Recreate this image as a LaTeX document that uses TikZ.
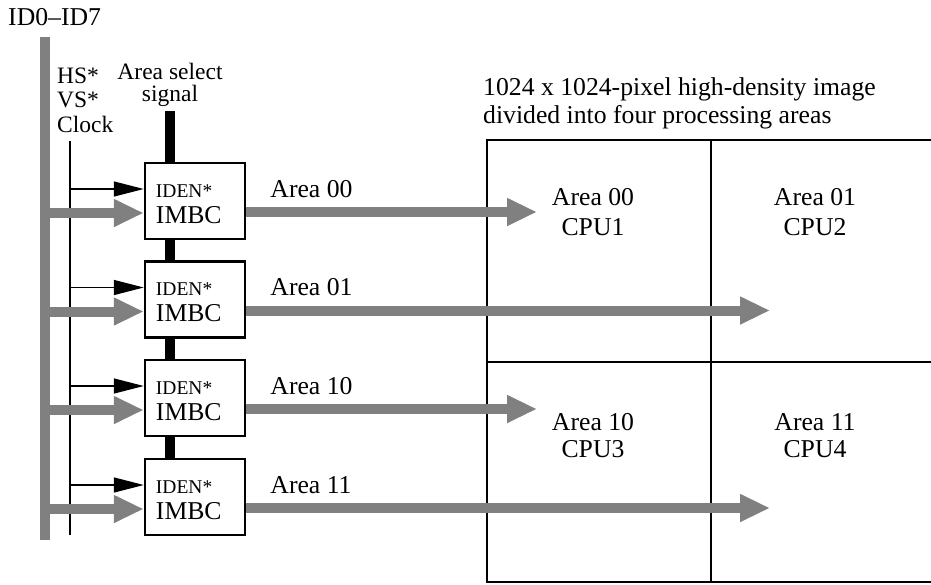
\documentclass[tikz,border=0pt]{standalone}
\usepackage{fontspec}
\setmainfont{Liberation Serif}
\usetikzlibrary{arrows.meta,calc}
\definecolor{busgray}{gray}{0.5}
\begin{document}
\begin{tikzpicture}[x=1pt,y=-1pt,
  imbc/.style={draw, line width=2.5pt, minimum width=100pt, minimum height=76pt, inner sep=0pt, fill=white},
  bigtxt/.style={inner sep=0pt, font=\fontsize{25.7}{28}\selectfont},
  midtxt/.style={inner sep=0pt, font=\fontsize{23.5}{24}\selectfont},
  smalltxt/.style={inner sep=0pt, font=\fontsize{19.5}{20}\selectfont},
  busline/.style={line width=10pt, busgray},
  graybus/.style={line width=10pt, busgray, -{Triangle[length=30pt,width=26pt]}},
  thinarrow/.style={line width=1.5pt, -{Triangle[length=30pt,width=15pt]}},
  selbar/.style={line width=10pt, black},
  gridline/.style={line width=2pt}
]
\useasboundingbox (0,0) rectangle (931,584);

% grid of processing areas
\coordinate (gtl) at (487,140);
\coordinate (gtm) at (711,140);
\coordinate (gtr) at (931,140);
\coordinate (gml) at (487,362);
\coordinate (gmr) at (931,362);
\coordinate (gbl) at (487,582);
\coordinate (gbm) at (711,582);
\coordinate (gbr) at (931,582);
\draw[gridline] (gtr) -- (gtl) -- (gbl) -- (gbr);
\draw[gridline] (gtm) -- (gbm);
\draw[gridline] (gml) -- (gmr);

\node[bigtxt, anchor=base west] (title1) at (483,95) {1024 x 1024-pixel high-density image};
\node[bigtxt, anchor=base west] (title2) at (483,123) {divided into four processing areas};

\node[bigtxt, anchor=base] (c00a) at (593,205) {Area 00};
\node[bigtxt, anchor=base] (c00b) at (593,235) {CPU1};
\node[bigtxt, anchor=base] (c01a) at (815,205) {Area 01};
\node[bigtxt, anchor=base] (c01b) at (815,235) {CPU2};
\node[bigtxt, anchor=base] (c10a) at (593,430) {Area 10};
\node[bigtxt, anchor=base] (c10b) at (593,457) {CPU3};
\node[bigtxt, anchor=base] (c11a) at (815,430) {Area 11};
\node[bigtxt, anchor=base] (c11b) at (815,457) {CPU4};

% labels at top left
\node[bigtxt, anchor=base west] (idl) at (8,25) {ID0--ID7};
\node[midtxt, anchor=base west] (hs) at (57,83) {HS*};
\node[midtxt, anchor=base west] (vs) at (57,107) {VS*};
\node[midtxt, anchor=base west] (clk) at (57,132) {Clock};
\node[midtxt, anchor=base] (as1) at (170,79) {Area select};
\node[midtxt, anchor=base] (as2) at (170,101) {signal};

% IMBC boxes
\node[imbc] (b1) at (195,201) {};
\node[imbc] (b2) at (195,299.5) {};
\node[imbc] (b3) at (195,398) {};
\node[imbc] (b4) at (195,497) {};

% bus and signal lines
\coordinate (bustop) at (45,37);
\coordinate (busbot) at (45,540);
\draw[busline] (bustop) -- (busbot);
\coordinate (clktop) at (70,141);
\coordinate (clkbot) at (70,535);
\draw[line width=1.5pt] (clktop) -- (clkbot);
\coordinate (seltop) at (170,111);
\draw[selbar] (seltop) -- (seltop |- b1.north);
\draw[selbar] (seltop |- b1.south) -- (seltop |- b2.north);
\draw[selbar] (seltop |- b2.south) -- (seltop |- b3.north);
\draw[selbar] (seltop |- b3.south) -- (seltop |- b4.north);

% inputs and outputs for each IMBC
\foreach \b/\lab/\tipx in {b1/Area 00/537, b2/Area 01/770, b3/Area 10/537, b4/Area 11/770}{
  \coordinate (\b thin) at ($(\b.west)+(0,-12)$);
  \coordinate (\b thick) at ($(\b.west)+(0,12)$);
  \coordinate (\b clk) at (clktop |- \b thin);
  \coordinate (\b bus) at (bustop |- \b thick);
  \coordinate (\b out) at ($(\b.east)+(0,11)$);
  \coordinate (\b tx) at (\tipx,0);
  \coordinate (\b tip) at (\b out -| \b tx);
  \draw[thinarrow] (\b clk) -- (\b thin);
  \draw[graybus] (\b bus) -- (\b thick);
  \draw[graybus] (\b out) -- (\b tip);
  \node[smalltxt, anchor=base west] (\b iden) at ($(\b.west)+(12,-4)$) {IDEN*};
  \node[bigtxt, anchor=base west] (\b name) at ($(\b.west)+(12,22)$) {IMBC};
  \node[bigtxt, anchor=base west] (\b lab) at ($(\b.east)+(24,-4)$) {\lab};
}
\end{tikzpicture}
\end{document}
